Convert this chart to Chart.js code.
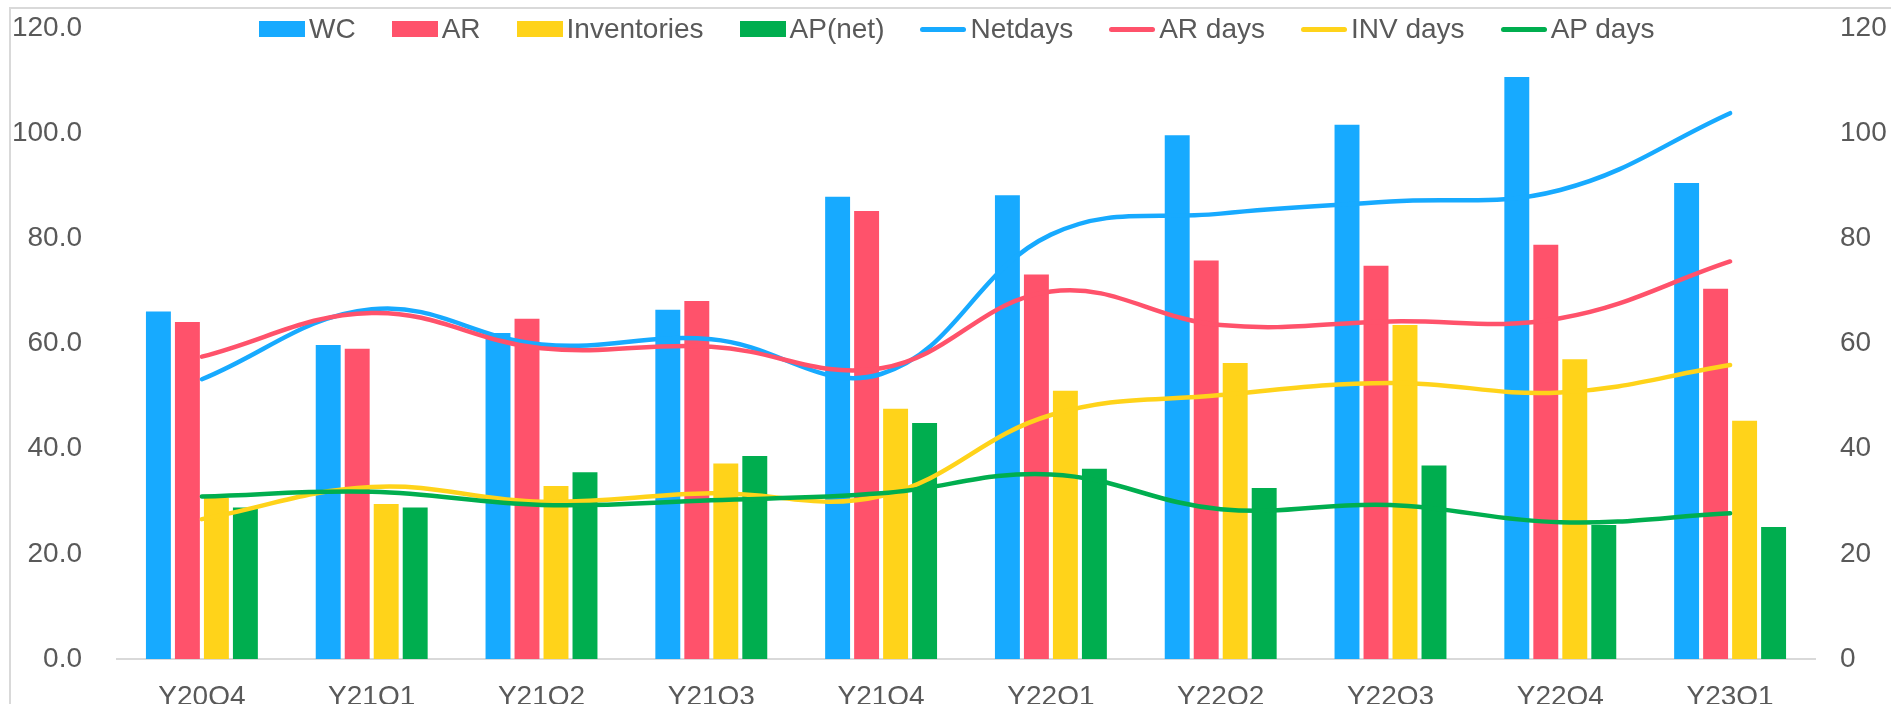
<!DOCTYPE html>
<html>
<head>
<meta charset="utf-8">
<script src="https://cdn.jsdelivr.net/npm/chart.js@4.4.1/dist/chart.umd.min.js"></script>
<style>
  html, body { margin: 0; padding: 0; background: #fff; overflow: hidden; }
  #wrap { position: relative; width: 1891px; height: 704px; }
  #frame { position: absolute; left: 9px; top: 7px; width: 1900px; height: 720px; border: 2px solid #d9d9d9; box-sizing: border-box; }
  #legend { position: absolute; left: 259px; top: 12px; height: 34px; display: flex; align-items: center;
            font-family: 'Liberation Sans', Arial, sans-serif; font-size: 28px; color: #595959; white-space: nowrap; }
  #legend .item { display: flex; align-items: center; margin-right: 36px; }
  #legend .swatch { width: 46px; height: 16px; margin-right: 4px; }
  #legend .ln { width: 46px; height: 5px; border-radius: 3px; margin-right: 4px; }
</style>
</head>
<body>
<div id="wrap">
  <div id="frame"></div>
  <canvas id="wcChart"></canvas>
  <div id="legend"></div>
</div>
<script>
// quarters
var quarters = ["Y20Q4", "Y21Q1", "Y21Q2", "Y21Q3", "Y21Q4", "Y22Q1", "Y22Q2", "Y22Q3", "Y22Q4", "Y23Q1"];

// bars (left axis)
var wc          = [66.1, 59.7, 62.0, 66.4, 87.9, 88.2, 99.6, 101.6, 110.7, 90.5];
var ar          = [64.1, 59.0, 64.7, 68.1, 85.2, 73.1, 75.8, 74.8, 78.8, 70.4];
var inventories = [30.6, 29.5, 32.9, 37.2, 47.6, 51.0, 56.3, 63.5, 57.0, 45.3];
var apNet       = [28.8, 28.8, 35.5, 38.6, 44.9, 36.2, 32.5, 36.8, 25.5, 25.1];

// days lines (right axis)
var netDays = [53.2, 66.5, 59.8, 60.8, 54.2, 80.7, 84.7, 87.0, 89.2, 103.8];
var arDays  = [57.5, 65.8, 59.1, 59.4, 55.3, 69.9, 63.5, 64.2, 64.8, 75.6];
var invDays = [26.6, 32.7, 29.9, 31.5, 31.0, 46.4, 50.2, 52.5, 50.7, 55.9];
var apDays  = [30.9, 31.8, 29.3, 30.2, 31.5, 35.1, 28.5, 29.3, 26.0, 27.7];

var axisTicks = [0, 20, 40, 60, 80, 100, 120];

var BLUE = "#17aaff", RED = "#ff526b", YELLOW = "#ffd31a", GREEN = "#00ae4f";
var TEXT = "#595959";
var FONT = { family: "'Liberation Sans', Arial, sans-serif", size: 28 };

function bar(label, data, color) {
  return { type: 'bar', label: label, data: data, backgroundColor: color, borderWidth: 0, yAxisID: 'y', order: 10 };
}
function line(label, data, color, order) {
  return {
    type: 'line', label: label, data: data, borderColor: color, backgroundColor: color,
    borderWidth: 4.5, borderCapStyle: 'round', pointRadius: 0, tension: 0.4,
    fill: false, yAxisID: 'y1', order: order
  };
}
function fixTicks(axis) {
  axis.ticks = axisTicks.map(function(v) { return { value: v }; });
}
// fixed axis widths; drop the extra top/bottom room that tick padding adds
function sideFit(width) {
  return function(axis) {
    axis.width = width;
    axis.paddingTop = 0;
    axis.paddingBottom = 0;
  };
}

var ctx = document.getElementById('wcChart').getContext('2d');
var wcChart = new Chart(ctx, {
  data: {
    labels: quarters,
    datasets: [
      bar("WC", wc, BLUE),
      bar("AR", ar, RED),
      bar("Inventories", inventories, YELLOW),
      bar("AP(net)", apNet, GREEN),
      line("Netdays", netDays, BLUE, 4),
      line("AR days", arDays, RED, 3),
      line("INV days", invDays, YELLOW, 2),
      line("AP days", apDays, GREEN, 1)
    ]
  },
  options: {
    responsive: true,
    maintainAspectRatio: false,
    animation: false,
    layout: { padding: { top: 28, left: 12, right: 4, bottom: 0 } },
    datasets: { bar: { categoryPercentage: 0.683, barPercentage: 0.86 } },
    plugins: {
      tooltip: { enabled: false },
      legend: { display: false }
    },
    scales: {
      x: {
        grid: { display: false, drawTicks: false },
        border: { display: true, color: "#d9d9d9", width: 2 },
        ticks: { font: FONT, color: TEXT, padding: 21, maxRotation: 0, autoSkip: false },
        afterFit: function(axis) { axis.height = 45; }
      },
      y: {
        position: 'left',
        min: 0, max: 120,
        afterBuildTicks: fixTicks,
        afterFit: sideFit(105),
        grid: { display: false, drawTicks: false },
        border: { display: false },
        ticks: { font: FONT, color: TEXT, padding: 35, callback: function(v) { return Number(v).toFixed(1); } }
      },
      y1: {
        position: 'right',
        min: 0, max: 120,
        afterBuildTicks: fixTicks,
        afterFit: sideFit(72),
        grid: { display: false, drawTicks: false },
        border: { display: false },
        ticks: { font: FONT, color: TEXT, padding: 25 }
      }
    }
  }
});

// legend built from the chart's datasets
var legendEl = document.getElementById('legend');
wcChart.data.datasets.forEach(function(ds) {
  var item = document.createElement('div');
  item.className = 'item';
  var mark = document.createElement('span');
  if (ds.type === 'line') {
    mark.className = 'ln';
    mark.style.background = ds.borderColor;
  } else {
    mark.className = 'swatch';
    mark.style.background = ds.backgroundColor;
  }
  var txt = document.createElement('span');
  txt.textContent = ds.label;
  item.appendChild(mark);
  item.appendChild(txt);
  legendEl.appendChild(item);
});
</script>
</body>
</html>
